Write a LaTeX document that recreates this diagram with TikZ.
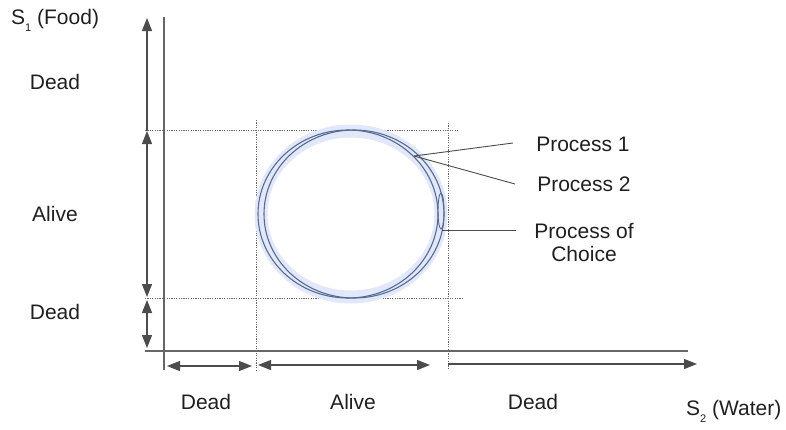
\documentclass[tikz,border=0pt]{standalone}
\usepackage{fontspec}
\setmainfont{Liberation Sans}
\usetikzlibrary{arrows.meta}
\definecolor{ringblue}{RGB}{85,108,150}
\definecolor{haloblue}{RGB}{226,232,250}
\begin{document}
\begin{tikzpicture}[x=1pt,y=-1pt,
  lbl/.style={font=\fontsize{21}{25}\selectfont, text=black!88, inner sep=0pt, align=center},
  axisline/.style={draw=black!60, line width=1.3pt},
  guide/.style={draw=black!60, line width=1pt, dash pattern=on 1.2pt off 1.2pt},
  tip/.tip={Triangle[length=13pt,width=10pt]},
  dimboth/.style={draw=black!70, line width=1.1pt, tip-tip},
  dimend/.style={draw=black!70, line width=1.1pt, -tip},
  ring/.style={draw=ringblue, line width=1.1pt},
  leader/.style={draw=black!70, line width=0.9pt}]
\useasboundingbox (0,0) rectangle (786,429);

% axes
\coordinate (ytop) at (164,17);
\coordinate (ybot) at (164,370);
\coordinate (xl) at (145,351);
\coordinate (xr) at (688,351);
\draw[axisline] (ybot) -- (ytop);
\draw[axisline] (xl) -- (xr);

% guide lines bounding the viable region
\coordinate (gh1a) at (145,130); \coordinate (gh1b) at (458,130);
\coordinate (gh2a) at (145,298); \coordinate (gh2b) at (463,298);
\coordinate (gv1a) at (256,120); \coordinate (gv1b) at (256,370);
\coordinate (gv2a) at (448,123); \coordinate (gv2b) at (448,370);
\draw[guide] (gh1a) -- (gh1b);
\draw[guide] (gh2a) -- (gh2b);
\draw[guide] (gv1a) -- (gv1b);
\draw[guide] (gv2a) -- (gv2b);

% vertical range arrows
\coordinate (v0) at (147,18);
\coordinate (v1) at (147,131);
\coordinate (v2) at (147,297);
\coordinate (v3) at (147,300);
\coordinate (v4) at (147,348);
\draw[dimend] (v1) -- (v0);
\draw[dimboth] (v1) -- (v2);
\draw[dimboth] (v3) -- (v4);

% horizontal range arrows
\coordinate (h0) at (167,366);
\coordinate (h1) at (252,366);
\coordinate (h2) at (258,365);
\coordinate (h3) at (430,365);
\coordinate (h4) at (448,364);
\coordinate (h5) at (697,364);
\draw[dimboth] (h0) -- (h1);
\draw[dimboth] (h2) -- (h3);
\draw[dimend] (h4) -- (h5);

% processes: halo and two trajectories
\draw[draw=haloblue, line width=13pt] (351,214) ellipse [x radius=90, y radius=83];
\draw[ring] (348,214) ellipse [x radius=90, y radius=84];
\draw[ring] (354,214) ellipse [x radius=90, y radius=84];
\draw[ring, line width=0.9pt] (441,211) ellipse [x radius=3, y radius=18];

% leaders
\coordinate (p12) at (414,156);
\coordinate (pc) at (442,230);
\node[lbl] (proc1) at (583,144) {Process 1};
\node[lbl] (proc2) at (584,184) {Process 2};
\node[lbl, font=\fontsize{21}{23}\selectfont] (procc) at (584,242) {Process of\\Choice};
\coordinate (e1) at (513,143);
\coordinate (e2) at (515,184);
\coordinate (ec) at (516,230);
\draw[leader] (p12) -- (e1);
\draw[leader] (p12) -- (e2);
\draw[leader] (pc) -- (ec);

% labels
\node[lbl, anchor=west] (s1) at (11,20) {S\raisebox{-7pt}{\fontsize{11}{11}\selectfont 1} (Food)};
\node[lbl] (ldead1) at (55,82) {Dead};
\node[lbl] (lalive) at (55,214) {Alive};
\node[lbl] (ldead2) at (55,312) {Dead};
\node[lbl] (bdead1) at (206,402) {Dead};
\node[lbl] (balive) at (353,402) {Alive};
\node[lbl] (bdead2) at (533,402) {Dead};
\node[lbl, anchor=west] (s2) at (686,411) {S\raisebox{-7pt}{\fontsize{11}{11}\selectfont 2} (Water)};
\end{tikzpicture}
\end{document}
